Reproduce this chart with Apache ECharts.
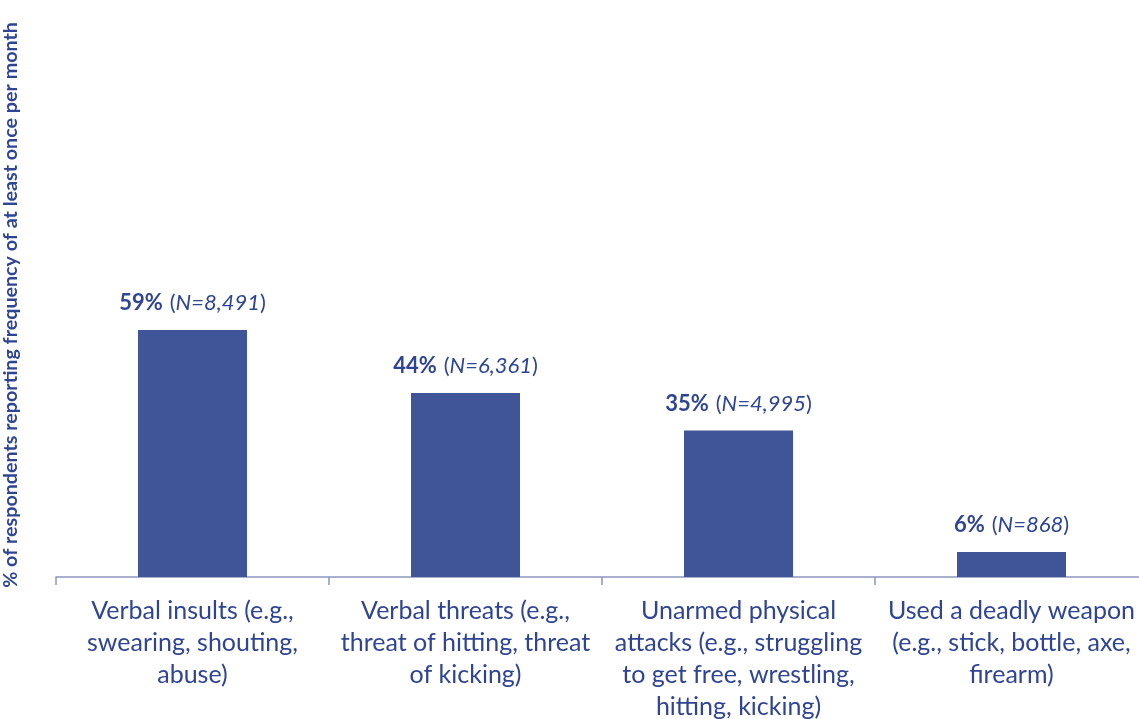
<!DOCTYPE html>
<html><head><meta charset="utf-8">
<script src="https://cdn.jsdelivr.net/npm/echarts@6/dist/echarts.min.js"></script>
<style>html,body{margin:0;padding:0;background:#fff}#c{width:1139px;height:719px}</style>
</head><body><div id="c"></div>
<script>
const categories = [
  "Verbal insults (e.g.,\nswearing, shouting,\nabuse)",
  "Verbal threats (e.g.,\nthreat of hitting, threat\nof kicking)",
  "Unarmed physical\nattacks (e.g., struggling\nto get free, wrestling,\nhitting, kicking)",
  "Used a deadly weapon\n(e.g., stick, bottle, axe,\nfirearm)"
];
const percentValues = [59, 44, 35, 6];
const nCounts = ["8,491", "6,361", "4,995", "868"];
const yAxisTitle = "% of respondents reporting frequency of at least once per month";

const FONT = "Lato";
const TXT = "#2F4593";
const chart = echarts.init(document.getElementById('c'));
chart.setOption({
  animation: false,
  grid: { left: 56, right: -9, top: 33, bottom: 142, outerBoundsMode: 'none', containLabel: false },
  xAxis: {
    type: 'category',
    data: categories,
    axisLine: { lineStyle: { color: '#8C97BD', width: 1.5 } },
    axisTick: { show: true, length: 8, lineStyle: { color: '#8C97BD', width: 1.5 } },
    axisLabel: { color: TXT, fontFamily: FONT, fontSize: 25, lineHeight: 32, margin: 18, interval: 0 }
  },
  yAxis: {
    type: 'value', min: 0, max: 130,
    axisLine: { show: false }, axisTick: { show: false }, axisLabel: { show: false },
    splitLine: { show: false },
    name: yAxisTitle, nameLocation: 'middle', nameRotate: 90, nameGap: 35,
    nameTextStyle: { color: TXT, fontFamily: FONT, fontSize: 19.7, fontWeight: 'bold' }
  },
  series: [{
    type: 'bar',
    data: percentValues,
    barWidth: 109,
    itemStyle: { color: '#3F5597' },
    label: {
      show: true, position: 'top', distance: 16,
      formatter: p => '{b|' + p.value + '%}{s| }{n|(}{i|N=' + nCounts[p.dataIndex] + '}{n|)}',
      rich: {
        b: { fontFamily: FONT, fontSize: 22, fontWeight: 'bold', color: TXT },
        s: { fontFamily: FONT, fontSize: 22, width: 7, color: TXT },
        n: { fontFamily: FONT, fontSize: 22, color: TXT },
        i: { fontFamily: FONT, fontSize: 22, fontStyle: 'italic', color: TXT }
      }
    }
  }]
});
</script></body></html>
